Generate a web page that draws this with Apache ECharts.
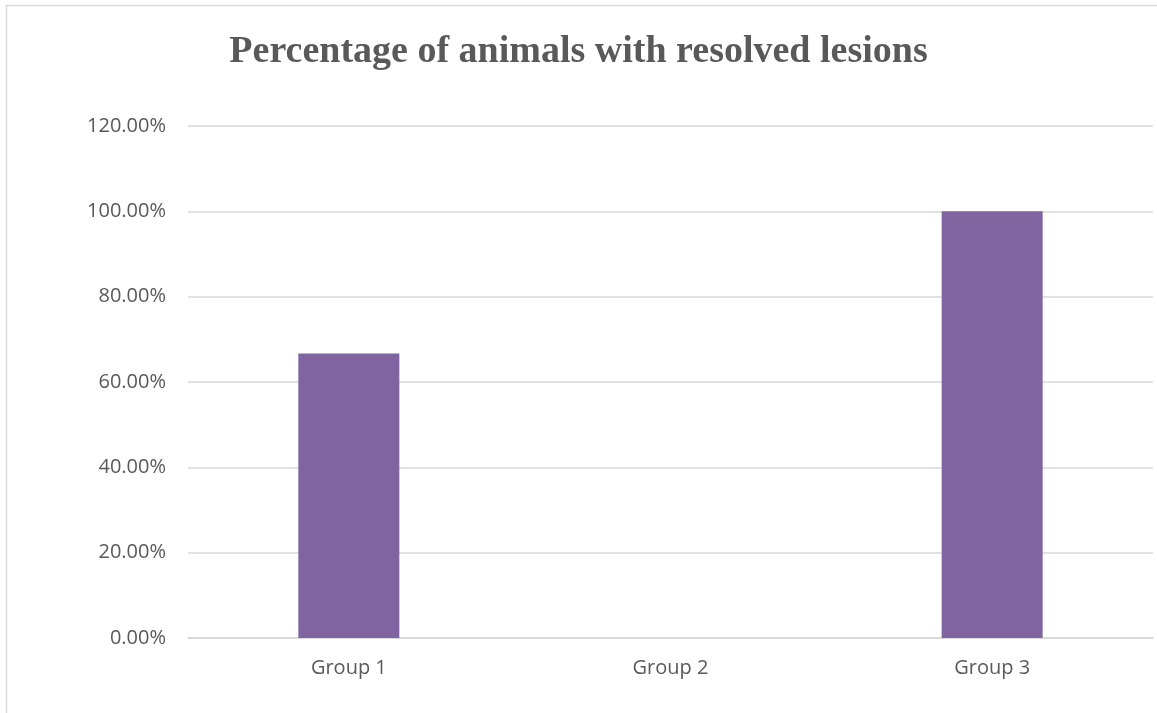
<!DOCTYPE html>
<html>
<head>
<meta charset="utf-8">
<script src="https://cdn.jsdelivr.net/npm/echarts@6/dist/echarts.min.js"></script>
<style>
  html, body { margin: 0; padding: 0; background: #ffffff; }
  #chart { width: 1157px; height: 713px; }
</style>
</head>
<body>
<div id="chart"></div>
<script>
// Share of animals whose lesions resolved, per treatment group
const categories = ['Group 1', 'Group 2', 'Group 3'];
const resolvedShare = [0.6667, 0, 1.0];
const yTicks = { min: 0, max: 1.2, interval: 0.2 };
const chartTitle = 'Percentage of animals with resolved lesions';

const chart = echarts.init(document.getElementById('chart'), null, { renderer: 'canvas' });

const textGray = '#595959';
const gridGray = '#d9d9d9';

chart.setOption({
  animation: false,
  backgroundColor: '#ffffff',
  title: {
    text: chartTitle,
    left: 'center',
    top: 28,
    textStyle: {
      fontFamily: '"Liberation Serif", "Times New Roman", serif',
      fontWeight: 'bold',
      fontSize: 38,
      color: textGray
    }
  },
  graphic: [{
    type: 'rect',
    silent: true,
    shape: { x: 6.5, y: 5.5, width: 1300, height: 900 },
    style: { fill: 'none', stroke: gridGray, lineWidth: 1.5 }
  }],
  grid: { left: 188, right: 4, top: 126, bottom: 75, containLabel: false },
  xAxis: {
    type: 'category',
    data: categories,
    axisLine: { show: true, lineStyle: { color: gridGray, width: 1.5 } },
    axisTick: { show: false },
    axisLabel: {
      margin: 20,
      fontFamily: '"Open Sans", sans-serif',
      fontSize: 20,
      color: textGray
    }
  },
  yAxis: {
    type: 'value',
    min: yTicks.min,
    max: yTicks.max,
    interval: yTicks.interval,
    axisLine: { show: false },
    axisTick: { show: false },
    splitLine: { lineStyle: { color: gridGray, width: 1.5 } },
    axisLabel: {
      margin: 22,
      fontFamily: '"Open Sans", sans-serif',
      fontSize: 20,
      color: textGray,
      formatter: v => (v * 100).toFixed(2) + '%'
    }
  },
  series: [{
    type: 'bar',
    data: resolvedShare,
    barWidth: 101,
    itemStyle: { color: '#8064a2' }
  }]
});
</script>
</body>
</html>
